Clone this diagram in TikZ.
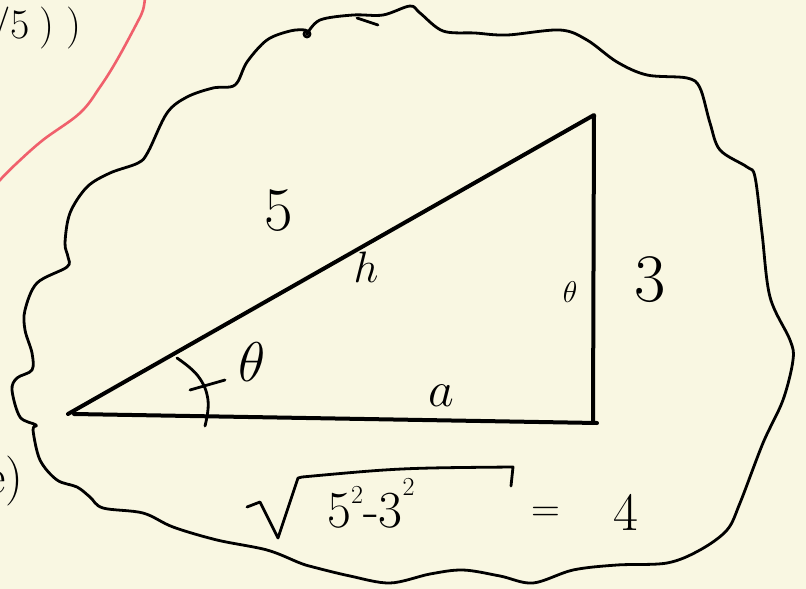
\RequirePackage{fix-cm}
\documentclass[tikz,border=0pt]{standalone}
\definecolor{paper}{RGB}{249,247,226}
\definecolor{redpen}{RGB}{240,96,108}
\begin{document}
\begin{tikzpicture}[x=1pt,y=-1pt,line cap=round,line join=round,
  ink/.style={draw=black,line width=2.8pt},
  tri/.style={draw=black,line width=4pt},
  lbl/.style={inner sep=0pt,text=black}]
\useasboundingbox (0,0) rectangle (806,589);
\fill[paper] (0,0) rectangle (806,589);
\clip (0,0) rectangle (806,589);

% red stroke
\draw[redpen,line width=2.6pt] plot[smooth,tension=0.6] coordinates {(145,-2) (143,10) (137,23) (117,60) (100,87) (80,113) (43,140) (17,163) (0,180) (-4,186)};

% cloud outline
\draw[ink] plot[smooth,tension=0.55] coordinates {
 (307,34) (320,20) (353,15) (383,15) (410,6) (420,13) (443,31) (475,33) (507,35) (560,30) (587,40)
 (617,62) (647,75) (687,78) (700,88) (710,123) (720,150) (747,167) (755,177) (762,233) (770,297)
 (790,340) (793,360) (783,400) (763,443) (740,503) (727,530) (700,550) (667,563) (617,565)
 (573,570) (533,583) (500,576) (463,570) (430,574) (390,583) (350,576) (313,567) (300,563) (267,550) (217,540)
 (173,527) (143,513) (103,508) (90,497) (77,487) (57,480) (40,460) (33,430) (36,425) (20,417) (12,390)
 (17,378) (32,370) (32,353) (25,330) (25,310) (37,283) (67,267) (68,257) (65,243) (70,213) (87,187)
 (110,173) (138,163) (148,152) (167,113) (187,97) (213,88) (235,85) (247,62) (267,40) (290,31) (305,30) (309,33)};
\draw[ink] (307,34) circle (3);
\draw[ink] (357,18) -- (378,25);

% triangle
\coordinate (A) at (68,414);
\coordinate (B) at (593,423);
\coordinate (C) at (594,115);
\draw[tri] (A) -- (C) -- (B);
\draw[tri] ([xshift=6pt]A) -- ([xshift=4pt]B);

% angle mark
\draw[ink] plot[smooth,tension=0.7] coordinates {(177,358) (198,376) (208,400) (205,426)};
\draw[ink] (190,390) -- (225,380);

% labels
\node[lbl,font=\fontsize{62}{62}\selectfont] (five) at (279,211) {5};
\node[lbl,font=\fontsize{44}{44}\selectfont] (h) at (366,267) {$h$};
\node[lbl,font=\fontsize{56}{56}\selectfont] (theta) at (252,362) {$\theta$};
\node[lbl,font=\fontsize{50}{50}\selectfont] (a) at (441,396) {$a$};
\node[lbl,font=\fontsize{68}{68}\selectfont] (three) at (650,280) {3};
\node[lbl,font=\fontsize{30}{30}\selectfont] (phi) at (570,292) {$\theta$};

% square root expression
\draw[ink] (247,507) -- (260,502) -- (278,538) -- (298,478) -- (302,477) .. controls (400,468) .. (513,467) -- (511,486);
\node[lbl,font=\fontsize{52}{52}\selectfont,anchor=base west] (rad) at (327,527) {5\raisebox{0.45em}{\fontsize{26}{26}\selectfont 2}-3\raisebox{0.6em}{\fontsize{26}{26}\selectfont 2}};
\node[lbl,font=\fontsize{40}{40}\selectfont] (eq) at (546,514) {=};
\node[lbl,font=\fontsize{54}{54}\selectfont] (four) at (626,512) {4};

% cropped neighbouring notes
\node[lbl,font=\fontsize{42}{42}\selectfont,anchor=base west] (topnote) at (-9,38) {/5\hspace{10pt})\hspace{12pt})};
\node[lbl,font=\fontsize{50}{50}\selectfont,anchor=base west] (sidenote) at (-15,493) {e)};
\end{tikzpicture}
\end{document}
